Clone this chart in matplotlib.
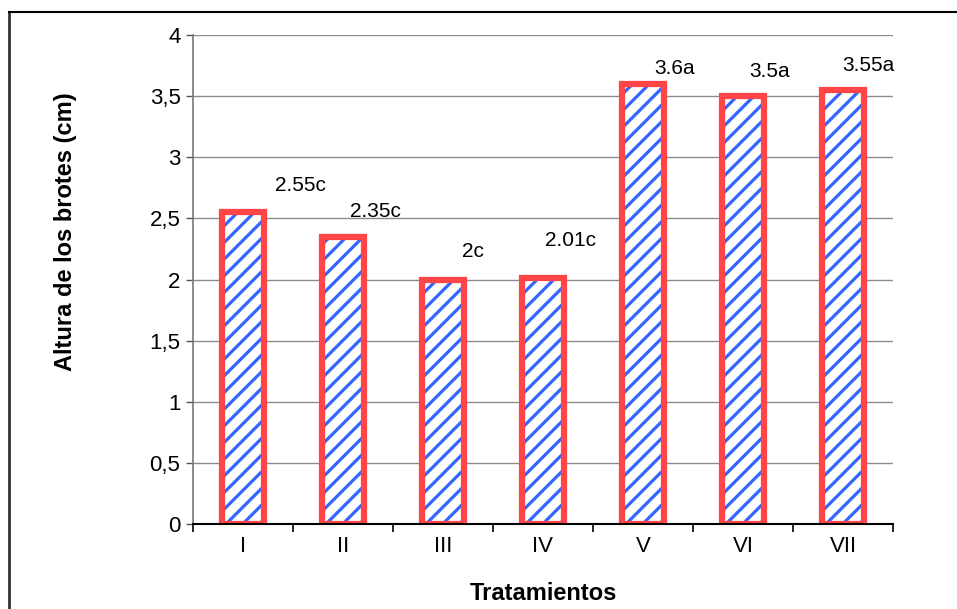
import matplotlib
matplotlib.use("Agg")
import matplotlib.pyplot as plt
from matplotlib.lines import Line2D
import numpy as np

# Data
tratamientos = ["I", "II", "III", "IV", "V", "VI", "VII"]
altura = [2.55, 2.35, 2.00, 2.01, 3.60, 3.50, 3.55]
etiquetas = ["2.55c", "2.35c", "2c", "2.01c", "3.6a", "3.5a", "3.55a"]
yticks = [0, 0.5, 1, 1.5, 2, 2.5, 3, 3.5, 4]
ytick_labels = ["0", "0,5", "1", "1,5", "2", "2,5", "3", "3,5", "4"]

# label placement relative to each bar top (x offset, y offset in data units)
label_dx = [0.57, 0.32, 0.30, 0.27, 0.32, 0.27, 0.25]
label_dy = [0.22, 0.21, 0.225, 0.31, 0.13, 0.20, 0.20]

plt.rcParams["font.family"] = ["Liberation Sans", "DejaVu Sans"]
plt.rcParams["hatch.linewidth"] = 2.3

fig = plt.figure(figsize=(9.57, 6.09), dpi=100)
ax = fig.add_axes([193 / 957, 1 - 524 / 609, 700 / 957, 489 / 609])

x = np.arange(len(tratamientos))
w = 0.42
blue = "#3366ff"
red = "#ff4545"

# hatched fill
ax.bar(x, altura, width=w, color="white", edgecolor=blue, hatch="//",
       linewidth=0, zorder=2)
# thick red outline
ax.bar(x, altura, width=w, fill=False, edgecolor=red, linewidth=4.5,
       zorder=3)

for xi, v, lab, dx, dy in zip(x, altura, etiquetas, label_dx, label_dy):
    ax.text(xi + dx, v + dy, lab, ha="center", va="center", fontsize=15,
            color="black", zorder=5)

ax.set_xlim(-0.5, len(tratamientos) - 0.5)
ax.set_ylim(0, 4)
ax.set_yticks(yticks)
ax.set_yticklabels(ytick_labels, fontsize=16)
ax.yaxis.grid(True, color="#8c8c8c", linewidth=1.0, zorder=0)
ax.set_axisbelow(True)

ax.set_xticks(x)
ax.set_xticklabels(tratamientos, fontsize=16)
ax.tick_params(axis="x", which="major", length=0, pad=9)
ax.set_xticks(np.arange(-0.5, len(tratamientos)), minor=True)
ax.tick_params(axis="x", which="minor", length=6, width=1.2, color="black",
               direction="out")
ax.tick_params(axis="y", length=5, width=1.0, color="#555555",
               direction="out", pad=4)

for s in ["top", "right"]:
    ax.spines[s].set_visible(False)
ax.spines["left"].set_color("#777777")
ax.spines["left"].set_linewidth(1.2)
ax.spines["bottom"].set_color("black")
ax.spines["bottom"].set_linewidth(1.5)
ax.spines["bottom"].set_zorder(4)

ax.set_xlabel("Tratamientos", fontsize=17, fontweight="bold")
ax.set_ylabel("Altura de los brotes (cm)", fontsize=17, fontweight="bold")
ax.xaxis.set_label_coords(0.5, -0.118)
ax.yaxis.set_label_coords(-0.166, 0.597)

# chart frame
fig.add_artist(Line2D([9 / 957, 9 / 957], [0, 1 - 12 / 609],
                      transform=fig.transFigure, color="#333333", linewidth=2))
fig.add_artist(Line2D([9 / 957, 1], [1 - 12 / 609, 1 - 12 / 609],
                      transform=fig.transFigure, color="black", linewidth=1.5))

fig.savefig("out.png", dpi=100)
